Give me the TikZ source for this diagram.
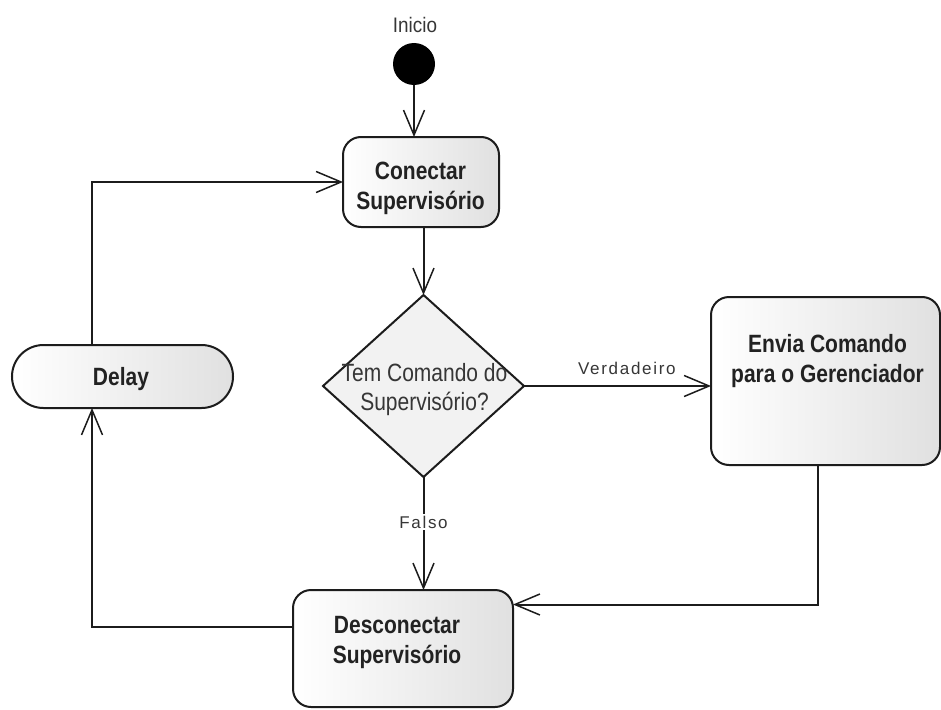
\documentclass[tikz,border=0pt]{standalone}
\usepackage{fontspec}
\setmainfont{Liberation Sans}
\newfontfamily\boxfont[FakeStretch=0.84]{Liberation Sans}
\newfontfamily\labelfont[LetterSpace=10]{Liberation Sans}
\newfontfamily\startfont[FakeStretch=0.9]{Liberation Sans}
\usetikzlibrary{shapes.geometric,arrows.meta,calc}

\definecolor{ink}{HTML}{1C1C1C}
\definecolor{txt}{HTML}{222222}
\definecolor{soft}{HTML}{363636}

\tikzset{
  line/.style={draw=ink, line width=2pt},
  arr/.style={line, -{Straight Barb[length=25pt,width=21pt,line width=1.5pt]}},
  action/.style={draw=ink, line width=2pt, rounded corners=18pt,
    left color=white, right color=black!12, inner sep=0pt, outer sep=0pt},
  boxtext/.style={font=\boxfont\bfseries\fontsize{25}{30}\selectfont,
    text=txt, align=center, inner sep=0pt},
  condtext/.style={font=\boxfont\fontsize{25}{29}\selectfont,
    text=soft, align=center, inner sep=0pt},
  flowlabel/.style={font=\labelfont\fontsize{17}{20}\selectfont,
    text=soft, inner sep=2pt},
}

\begin{document}
\begin{tikzpicture}[x=1pt,y=-1pt]
  \fill[white] (0,0) rectangle (941,709);
  \useasboundingbox (0,0) rectangle (941,709);

  % initial state
  \node[circle, fill=black, minimum size=42pt, inner sep=0pt] (start) at (414,64) {};
  \node[font=\startfont\fontsize{21}{24}\selectfont, text=soft, inner sep=0pt] (inicio) at (415,25) {Inicio};

  % actions
  \node[action, minimum width=156pt, minimum height=90pt] (conectar) at (421,182) {};
  \node[boxtext] (conectartxt) at (420.5,188) {Conectar\\Supervisório};

  \node[diamond, draw=ink, line width=2pt, fill=black!5, inner sep=0pt, outer sep=0pt,
        minimum width=201pt, minimum height=182pt] (decisao) at (423.5,386) {};
  \node[condtext] (decisaotxt) at (424.5,390) {Tem Comando do\\Supervisório?};

  \node[action, minimum width=229pt, minimum height=168pt] (envia) at (825.5,381) {};
  \node[boxtext] (enviatxt) at (827.5,361) {Envia Comando\\para o Gerenciador};

  \node[action, minimum width=220pt, minimum height=117pt] (desconectar) at (403,648.5) {};
  \node[boxtext] (desconectartxt) at (397,642) {Desconectar\\Supervisório};

  \node[action, rounded corners=31.5pt, minimum width=221pt, minimum height=63pt] (delay) at (122.5,376.5) {};
  \node[boxtext] (delaytxt) at (121,379) {Delay};

  % transitions
  \draw[arr] (start.south) -- (start.south |- conectar.north);
  \draw[arr] (conectar.south -| decisao.north) -- (decisao.north);
  \draw[arr] (decisao.east) -- (decisao.east -| envia.west)
    node[flowlabel, pos=0.55, above=8pt] (verdadeiro) {Verdadeiro};
  \draw[arr] (decisao.south) -- (decisao.south |- desconectar.north)
    node[flowlabel, pos=0.4, fill=white] (falso) {Falso};
  \draw[arr] ([xshift=-7.5pt]envia.south) |- ([yshift=44pt]desconectar.east);
  \draw[arr] ([yshift=21.5pt]desconectar.west) -| ([xshift=-30.5pt]delay.south);
  \draw[arr] ([xshift=-30.5pt]delay.north) |- (conectar.west);
\end{tikzpicture}
\end{document}
